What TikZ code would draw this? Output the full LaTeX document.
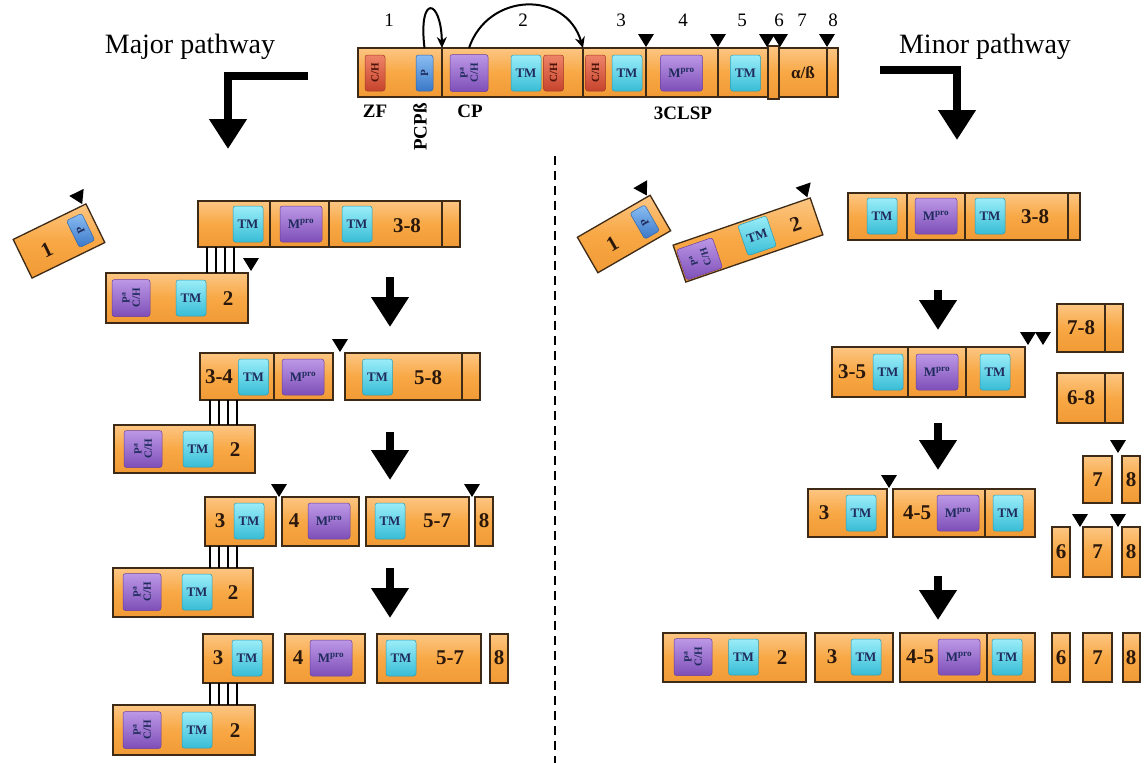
\documentclass[tikz,border=0pt]{standalone}
\usepackage{fontspec}
\setmainfont{Liberation Serif}
\usetikzlibrary{arrows.meta}
\definecolor{segline}{HTML}{3D2A17}
\definecolor{orgT}{HTML}{FCC683}
\definecolor{orgM}{HTML}{F8A845}
\definecolor{orgB}{HTML}{F09A35}
\definecolor{tmT}{HTML}{9AEDF8}
\definecolor{tmB}{HTML}{38BDD6}
\definecolor{tmD}{HTML}{2A9DB5}
\definecolor{mpT}{HTML}{BC98E6}
\definecolor{mpB}{HTML}{7E4FB8}
\definecolor{mpD}{HTML}{6A3F9E}
\definecolor{chT}{HTML}{EE8468}
\definecolor{chB}{HTML}{C6432C}
\definecolor{chD}{HTML}{A53A26}
\definecolor{pbT}{HTML}{8ABDF2}
\definecolor{pbB}{HTML}{3A78C8}
\definecolor{pbD}{HTML}{2F66AE}
\definecolor{domtxt}{HTML}{1F2B5C}
\definecolor{chtxt}{HTML}{4A1208}
\definecolor{lbltxt}{HTML}{2A180C}
\newcommand{\fs}[1]{\fontsize{#1}{#1}\selectfont}
\newcommand{\seg}[5]{\node[seg, minimum width={#4-#2}, minimum height={#5-#3}] (#1) at ({(#2+#4)/2},{(#3+#5)/2}) {};}
\newcommand{\dom}[5]{\node[#2] (#1) at (#3,#4) {#5};}
\newcommand{\lab}[4]{\node[lbl] (#1) at (#2,#3) {#4};}
\newcommand{\cleave}[2]{\fill[black] ({#1-8},{#2-13}) -- ({#1+8},{#2-13}) -- (#1,#2) -- cycle;}
\newcommand{\CH}{\rotatebox{90}{C/H}}
\newcommand{\PCH}{\rotatebox{90}{\shortstack{P\textsuperscript{a}\\C/H}}}
\newcommand{\MP}{M\textsuperscript{pro}}
\tikzset{
  seg/.style={draw=segline, line width=1.3pt, top color=orgT, bottom color=orgB, middle color=orgM, inner sep=0pt, outer sep=0pt},
  dom/.style={rounded corners=2.5pt, inner sep=0pt, outer sep=0pt, line width=0.5pt, text=domtxt, font=\bfseries\fs{13}},
  tm/.style={dom, minimum width=30pt, minimum height=36pt, top color=tmT, bottom color=tmB, draw=tmD},
  mpro/.style={dom, minimum width=42pt, minimum height=36pt, top color=mpT, bottom color=mpB, draw=mpD},
  pch/.style={dom, minimum width=38pt, minimum height=37pt, top color=mpT, bottom color=mpB, draw=mpD, font=\bfseries\fs{11}},
  ch/.style={dom, minimum width=20pt, minimum height=36pt, top color=chT, bottom color=chB, draw=chD, text=chtxt, font=\bfseries\fs{11}},
  pb/.style={dom, minimum width=17pt, minimum height=36pt, top color=pbT, bottom color=pbB, draw=pbD, font=\bfseries\fs{11}},
  lbl/.style={font=\bfseries\fs{21}, text=lbltxt, inner sep=0pt},
  num/.style={font=\fs{19}, inner sep=0pt},
  dlab/.style={font=\bfseries\fs{19}, inner sep=0pt},
  link/.style={line width=2.8pt, black},
  bigarrow/.style={line width=7.5pt, -{Triangle[width=36pt,length=30pt]}, line join=miter},
  curv/.style={line width=2pt, -{Stealth[length=11pt,width=10pt]}},
}
\begin{document}
\begin{tikzpicture}[x=1pt,y=-1pt]
\useasboundingbox (0,0) rectangle (1144,763);
\fill[white] (0,0) rectangle (1144,763);

% ---------------- top polyprotein ----------------
\seg{t1}{358}{48}{442}{97}
\seg{t2}{442}{48}{583}{97}
\seg{t3}{583}{48}{646}{97}
\seg{t4}{646}{48}{718}{97}
\seg{t5}{718}{48}{768}{97}
\seg{t7}{779}{48}{827}{97}
\seg{t8}{827}{48}{838}{97}
\seg{t6}{768}{46}{779}{99}
\dom{tzf}{ch}{375}{73}{\CH}
\dom{tp}{pb}{424.5}{73}{\rotatebox{90}{P}}
\dom{tpch}{pch}{469}{73}{\PCH}
\dom{ttm1}{tm}{526}{73}{TM}
\dom{tch2}{ch}{553.5}{73}{\CH}
\dom{tch3}{ch}{595.5}{73}{\CH}
\dom{ttm2}{tm}{627}{73}{TM}
\dom{tmp}{mpro}{681.5}{73}{\MP}
\dom{ttm3}{tm}{745.5}{73}{TM}
\node[font=\bfseries\fs{17}, text=lbltxt] (tab) at (803,73) {α/ß};
\cleave{646}{47}\cleave{718}{47}\cleave{767}{47}\cleave{780}{47}\cleave{827}{47}
\node[num] (n1) at (389,20) {1};
\node[num] (n2) at (523,20) {2};
\node[num] (n3) at (621,20) {3};
\node[num] (n4) at (683,20) {4};
\node[num] (n5) at (742,20) {5};
\node[num] (n6) at (779,20) {6};
\node[num] (n7) at (802,20) {7};
\node[num] (n8) at (833,20) {8};
\node[dlab] (zf) at (375,111) {ZF};
\node[dlab, rotate=90] (pcpb) at (420,127) {PCPß};
\node[dlab] (cp) at (470,111) {CP};
\node[dlab] (clsp) at (683,113) {3CLSP};
\draw[curv] (tp.north |- t1.north) .. controls (418,-6) and (441,-2) .. (t2.north west);
\draw[curv] (tpch.north |- t2.north) .. controls (488,-8) and (566,-10) .. (t2.north east);

% pathway labels and arrows
\node[font=\fs{28}] (major) at (190,47) {Major pathway};
\node[font=\fs{28}] (minor) at (985,47) {Minor pathway};
\draw[bigarrow] (308,76) -- (228,76) -- (228,149);
\draw[bigarrow] (880,70) -- (957,70) -- (957,140);
\draw[line width=2pt, dash pattern=on 9pt off 6pt] (555,156) -- (555,763);

% ---------------- major pathway ----------------
\begin{scope}[shift={(59,241)}, rotate=26, transform shape]
\node[seg, minimum width=81pt, minimum height=43pt] (l0) at (0,0) {};
\dom{l0p}{pb, minimum height=30pt}{24}{0}{\rotatebox{90}{P}}
\lab{l0n}{-15}{3}{1}
\cleave{37}{-23}
\end{scope}

\seg{l1a}{198}{201}{270}{247}
\seg{l1b}{270}{201}{329}{247}
\seg{l1c}{329}{201}{442}{247}
\seg{l1d}{442}{201}{460}{247}
\dom{l1tm1}{tm}{248}{224}{TM}
\dom{l1mp}{mpro}{301}{224}{\MP}
\dom{l1tm2}{tm}{357}{224}{TM}
\lab{l1n}{407}{226}{3-8}
\seg{l1e}{106}{273}{248}{323}
\dom{l1pch}{pch}{131}{298}{\PCH}
\dom{l1tm3}{tm}{191}{298}{TM}
\lab{l1n2}{228}{299}{2}
\foreach \x in {207,216,225,234} \draw[link] (\x,0 |- l1a.south) -- (\x,0 |- l1e.north);
\cleave{251}{271}
\draw[bigarrow] (390,277) -- (390,327);

\seg{l2a}{200}{353}{274}{400}
\seg{l2b}{274}{353}{333}{400}
\seg{l2c}{345}{353}{462}{400}
\seg{l2d}{462}{353}{480}{400}
\lab{l2n1}{219}{377}{3-4}
\dom{l2tm1}{tm}{253.5}{377}{TM}
\dom{l2mp}{mpro}{303}{377}{\MP}
\dom{l2tm2}{tm}{377.5}{377}{TM}
\lab{l2n2}{428}{378}{5-8}
\cleave{340}{352}
\seg{l2e}{114}{425}{255}{473}
\dom{l2pch}{pch}{143}{449}{\PCH}
\dom{l2tm3}{tm}{198}{449}{TM}
\lab{l2n3}{235}{450}{2}
\foreach \x in {210,219,228,237} \draw[link] (\x,0 |- l2a.south) -- (\x,0 |- l2e.north);
\draw[bigarrow] (390,432) -- (390,480);

\seg{l3a}{205}{497}{276}{546}
\seg{l3b}{282}{497}{359}{546}
\seg{l3c}{366}{497}{469}{546}
\seg{l3d}{475}{497}{493}{546}
\lab{l3n1}{220}{521}{3}
\dom{l3tm1}{tm}{249}{521}{TM}
\lab{l3n2}{294}{521}{4}
\dom{l3mp}{mpro}{329}{521}{\MP}
\dom{l3tm2}{tm}{390}{521}{TM}
\lab{l3n3}{437}{521}{5-7}
\lab{l3n4}{484}{521}{8}
\cleave{279}{497}\cleave{472}{497}
\seg{l3e}{113}{568}{253}{617}
\dom{l3pch}{pch}{142}{592}{\PCH}
\dom{l3tm3}{tm}{197}{592}{TM}
\lab{l3n5}{233}{593}{2}
\foreach \x in {210,219,228,237} \draw[link] (\x,0 |- l3a.south) -- (\x,0 |- l3e.north);
\draw[bigarrow] (390,568) -- (390,618);

\seg{l4a}{203}{634}{273}{683}
\seg{l4b}{285}{634}{365}{683}
\seg{l4c}{377}{634}{481}{683}
\seg{l4d}{490}{634}{508}{683}
\lab{l4n1}{218}{658}{3}
\dom{l4tm1}{tm}{247}{658}{TM}
\lab{l4n2}{298}{658}{4}
\dom{l4mp}{mpro}{331}{658}{\MP}
\dom{l4tm2}{tm}{401}{658}{TM}
\lab{l4n3}{450}{658}{5-7}
\lab{l4n4}{499}{658}{8}
\seg{l4e}{113}{705}{255}{755}
\dom{l4pch}{pch}{142}{730}{\PCH}
\dom{l4tm3}{tm}{197}{730}{TM}
\lab{l4n5}{235}{731}{2}
\foreach \x in {210,219,228,237} \draw[link] (\x,0 |- l4a.south) -- (\x,0 |- l4e.north);

% ---------------- minor pathway ----------------
\begin{scope}[shift={(624,234)}, rotate=30, transform shape]
\node[seg, minimum width=84pt, minimum height=41pt] (r0) at (0,0) {};
\dom{r0p}{pb, minimum height=30pt}{24}{0}{\rotatebox{90}{P}}
\lab{r0n}{-15}{3}{1}
\cleave{39}{-22}
\end{scope}
\begin{scope}[shift={(748,240)}, rotate=19, transform shape]
\node[seg, minimum width=145pt, minimum height=39pt] (r0b) at (0,0) {};
\dom{r0pch}{pch, minimum height=32pt, font=\bfseries\fs{10}}{-52}{2}{\rotatebox{90}{\shortstack{P\textsuperscript{a}\\[3pt]C/H}}}
\dom{r0tm}{tm, minimum height=32pt}{10}{-1}{TM}
\lab{r0n2}{50}{1}{2}
\cleave{70}{-21}
\end{scope}

\seg{r1a}{848}{193}{907}{240}
\seg{r1b}{907}{193}{965}{240}
\seg{r1c}{965}{193}{1068}{240}
\seg{r1d}{1068}{193}{1080}{240}
\dom{r1tm1}{tm}{882}{216}{TM}
\dom{r1mp}{mpro}{936}{216}{\MP}
\dom{r1tm2}{tm}{990}{216}{TM}
\lab{r1n}{1035}{217}{3-8}
\draw[bigarrow] (938,290) -- (938,330);

\seg{r2a}{832}{347}{908}{397}
\seg{r2b}{908}{347}{966}{397}
\seg{r2c}{966}{347}{1025}{397}
\lab{r2n1}{852}{372}{3-5}
\dom{r2tm1}{tm}{888}{372}{TM}
\dom{r2mp}{mpro}{937}{372}{\MP}
\dom{r2tm2}{tm}{995}{372}{TM}
\cleave{1028}{345}\cleave{1043}{345}
\seg{r2d}{1057}{304}{1105}{352}
\seg{r2e}{1105}{304}{1123}{352}
\lab{r2n2}{1081}{328}{7-8}
\seg{r2f}{1057}{373}{1105}{423}
\seg{r2g}{1105}{373}{1123}{423}
\lab{r2n3}{1081}{398}{6-8}
\cleave{1118}{453}
\seg{r2h}{1083}{456}{1112}{503}
\seg{r2i}{1122}{456}{1140}{503}
\lab{r2n4}{1097.5}{480}{7}
\lab{r2n5}{1131}{480}{8}
\draw[bigarrow] (938,423) -- (938,470);

\seg{r3a}{808}{489}{887}{537}
\lab{r3n1}{824}{513}{3}
\dom{r3tm1}{tm}{861}{513}{TM}
\cleave{889}{488}
\seg{r3b}{893}{489}{985}{537}
\seg{r3c}{985}{489}{1035}{537}
\lab{r3n2}{917}{513}{4-5}
\dom{r3mp}{mpro}{958}{513}{\MP}
\dom{r3tm2}{tm}{1008}{513}{TM}
\cleave{1080}{527}\cleave{1118}{527}
\seg{r3d}{1052}{527}{1070}{577}
\seg{r3e}{1083}{527}{1112}{577}
\seg{r3f}{1122}{527}{1140}{577}
\lab{r3n3}{1061}{552}{6}
\lab{r3n4}{1097.5}{552}{7}
\lab{r3n5}{1131}{552}{8}
\draw[bigarrow] (938,576) -- (938,620);

\seg{r4a}{663}{633}{806}{682}
\dom{r4pch}{pch}{693}{657}{\PCH}
\dom{r4tm1}{tm}{743.5}{657}{TM}
\lab{r4n1}{782}{658}{2}
\seg{r4b}{815}{633}{893}{682}
\lab{r4n2}{832}{657}{3}
\dom{r4tm2}{tm}{866}{657}{TM}
\seg{r4c}{900}{633}{987}{682}
\seg{r4d}{987}{633}{1035}{682}
\lab{r4n3}{920}{657}{4-5}
\dom{r4mp}{mpro}{959}{657}{\MP}
\dom{r4tm3}{tm}{1007}{657}{TM}
\seg{r4e}{1052}{633}{1070}{682}
\seg{r4f}{1083}{633}{1112}{682}
\seg{r4g}{1123}{633}{1140}{682}
\lab{r4n4}{1061}{658}{6}
\lab{r4n5}{1097.5}{658}{7}
\lab{r4n6}{1131}{658}{8}
\end{tikzpicture}
\end{document}
